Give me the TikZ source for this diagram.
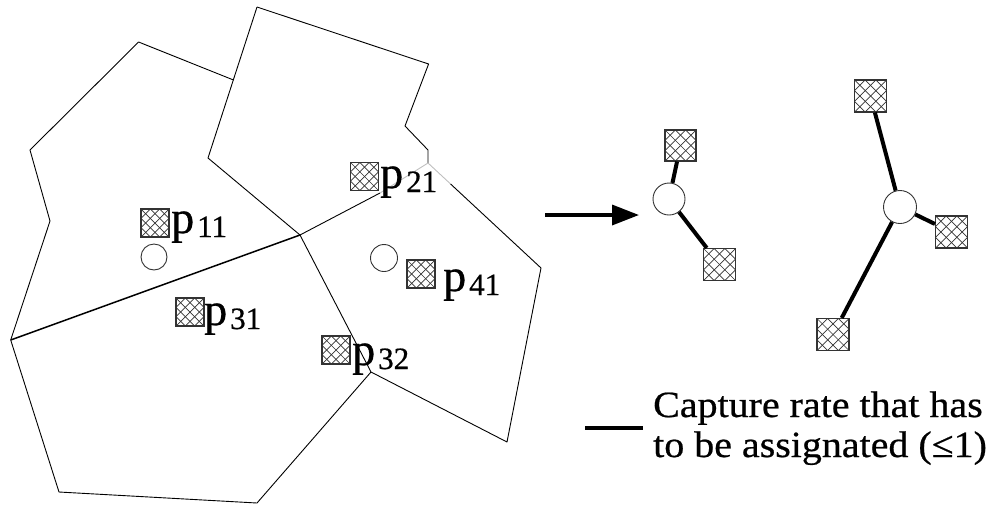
\documentclass[tikz,border=0pt]{standalone}
\usepackage{fontspec}
\setmainfont{Liberation Serif}[FakeBold=0.6]
\newfontfamily\labelfont{Liberation Serif}[FakeBold=0.6]
\newfontfamily\legendfont{Liberation Serif}[FakeStretch=1.08, FakeBold=0.6]
\usetikzlibrary{arrows.meta,calc}

% label of a user: big p with a lowered index
\newcommand{\plab}[1]{\labelfont\fontsize{46}{46}\selectfont p\kern3pt\raisebox{-4pt}{\fontsize{31}{31}\selectfont #1}}

\begin{document}
\begin{tikzpicture}[
    x=1pt, y=-1pt,
    cell/.style={line width=0.9pt, line join=round},
    user/.style={draw=black!80, line width=1.1pt, fill=white, inner sep=0pt,
        minimum size=#1,
        path picture={
            \foreach \k in {-2,...,2}{
                \draw[line width=0.7pt]
                    ([xshift=\k*#1/3]path picture bounding box.south west) --
                    ([xshift=\k*#1/3]path picture bounding box.north east);
                \draw[line width=0.7pt]
                    ([xshift=\k*#1/3]path picture bounding box.north west) --
                    ([xshift=\k*#1/3]path picture bounding box.south east);
            }
        }},
    hub/.style={draw=black!80, circle, line width=0.9pt, fill=white,
        inner sep=0pt, minimum size=#1},
    plabel/.style={anchor=base west, inner sep=0pt},
    link/.style={line width=4pt}
]

\useasboundingbox (0,0) rectangle (995,507);

% 1. Vertices of the cells
\coordinate (v_a) at (138.6,42);
\coordinate (v_b) at (233.5,80);
\coordinate (v_c) at (30,150);
\coordinate (v_d) at (50,221);
\coordinate (v_e) at (10.7,340);
\coordinate (v_o) at (300,235);
\coordinate (v_f) at (208,158);
\coordinate (v_g) at (257,7);
\coordinate (v_h) at (428.6,64);
\coordinate (v_i) at (405,126);
\coordinate (v_j) at (428,150);
\coordinate (v_k) at (428,163);
\coordinate (v_l) at (380,193);
\coordinate (v_m) at (541,268);
\coordinate (v_n) at (507,442);
\coordinate (v_q) at (371,372);
\coordinate (v_s) at (59,492);
\coordinate (v_t) at (257,503);

% 2. Cell borders
\draw[cell] (v_a) -- (v_b);
\draw[cell] (v_a) -- (v_c) -- (v_d) -- (v_e) -- (v_s) -- (v_t) -- (v_q);
\draw[cell] (v_g) -- (v_f) -- (v_o);
\draw[cell] (v_g) -- (v_h) -- (v_i) -- (v_j) -- (v_k);
\draw[cell] (v_o) -- (v_l);
\draw[cell, black!25] (v_l) -- (v_k) -- ($(v_k)!0.2!(v_m)$);
\draw[cell] ($(v_k)!0.2!(v_m)$) -- (v_m) -- (v_n) -- (v_q) -- (v_o);
\draw[cell, line width=1.5pt] (v_e) -- (v_o);

% 3. Users and stations in the cells
\node[hub=26] (c1) at (154,257) {};
\node[hub=27] (c4) at (384,258) {};
\node[user=28] (u11) at (155,223) {};
\node[user=28] (u21) at (364.5,176.5) {};
\node[user=28] (u31) at (190,312) {};
\node[user=28] (u32) at (336,350) {};
\node[user=28] (u41) at (421,274) {};

\node[plabel] (l11) at (171,233) {\plab{11}};
\node[plabel] (l21) at (380,188) {\plab{21}};
\node[plabel] (l31) at (204,325) {\plab{31}};
\node[plabel] (l32) at (352,365) {\plab{32}};
\node[plabel] (l41) at (443,291) {\plab{41}};

% 4. Arrow to the assignment graphs
\coordinate (arr_start) at (545,215);
\coordinate (arr_end) at (639,215);
\draw[line width=3.5pt, -{Triangle[length=27pt, width=20pt]}] (arr_start) -- (arr_end);

% 5. Small graph
\node[hub=32] (hub_a) at (669,199) {};
\node[user=31] (s1) at (680.5,145.5) {};
\node[user=32] (s2) at (719.5,264.5) {};
\draw[link] (hub_a) -- (s1);
\draw[link] (hub_a) -- (s2);

% 6. Big graph
\node[hub=33] (hub_b) at (900,207) {};
\node[user=32] (s3) at (870.5,96) {};
\node[user=32] (s4) at (951.5,232) {};
\node[user=32] (s5) at (833,334.5) {};
\draw[link] (hub_b) -- (s3);
\draw[link] (hub_b) -- (s4);
\draw[link] (hub_b) -- (s5);

% 7. Legend (base anchor sits on the last line)
\coordinate (key_a) at (585,428);
\coordinate (key_b) at (643,428);
\draw[link] (key_a) -- (key_b);
\node[anchor=base west, align=left, inner sep=0pt,
      font=\legendfont\fontsize{37}{40}\selectfont] (legend) at (653,457)
    {Capture rate that has\\to be assignated (≤1)};

\end{tikzpicture}
\end{document}
